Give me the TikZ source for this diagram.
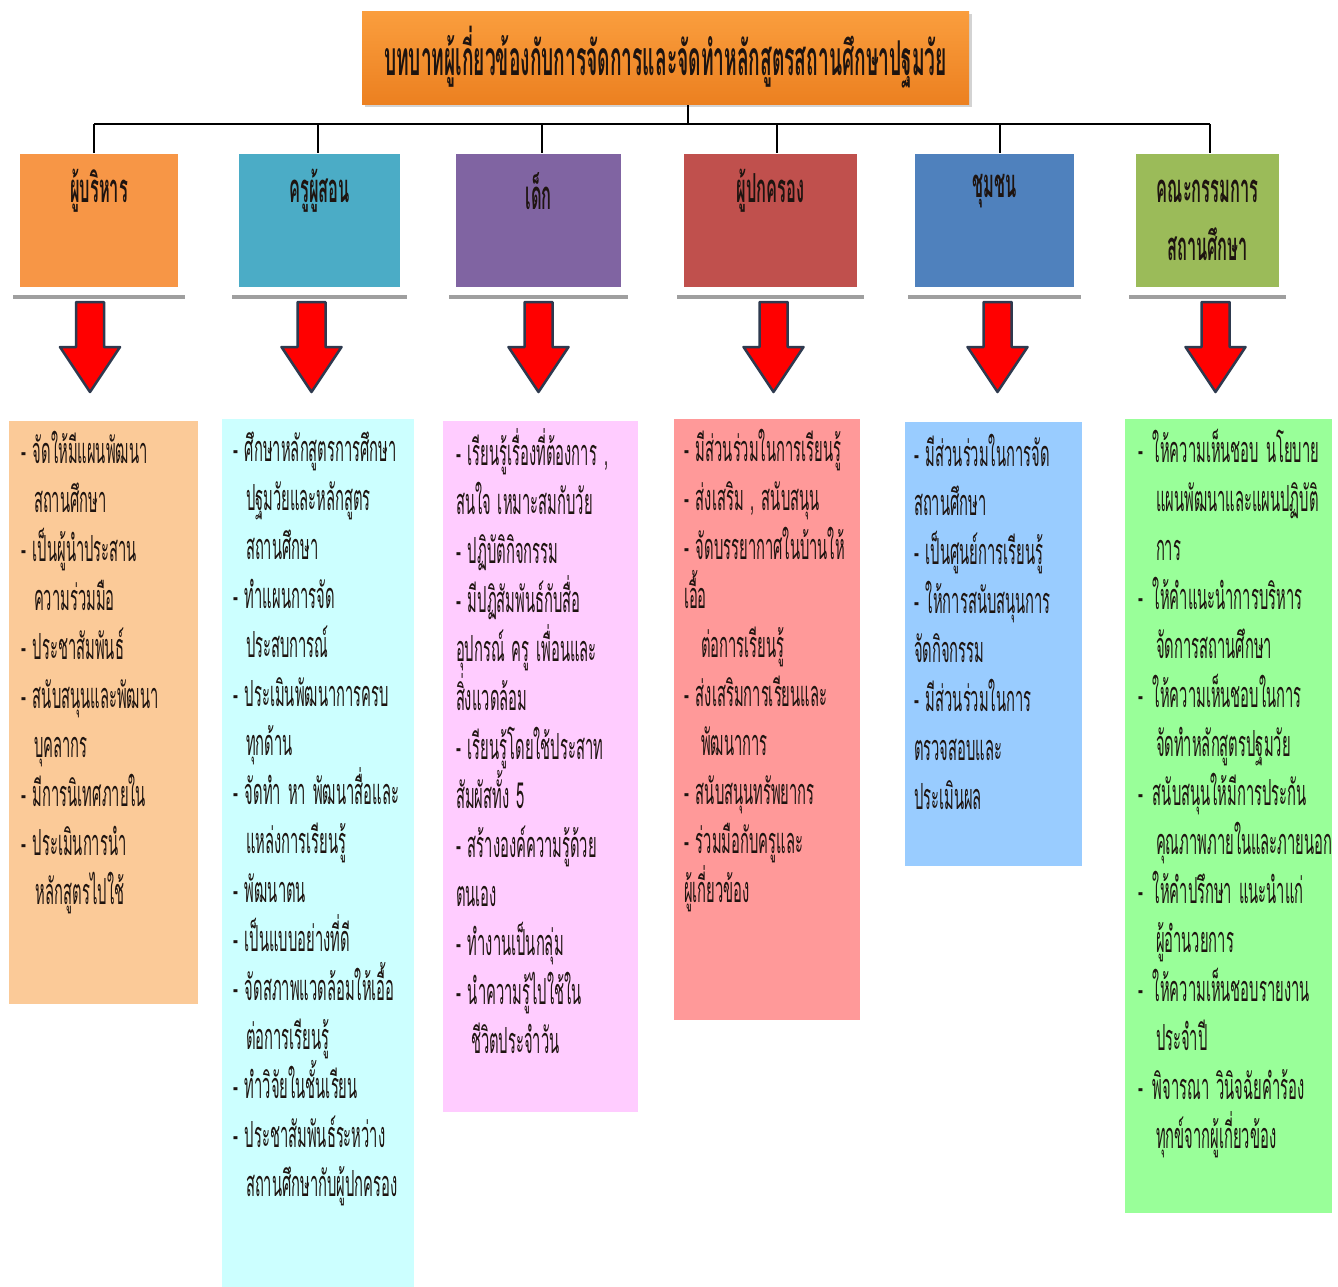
\documentclass[tikz,border=0pt]{standalone}
\usepackage{fontspec}
\newfontfamily\thaifont[Script=Thai,FakeStretch=0.41]{Loma}
\newfontfamily\thaititle[Script=Thai,FakeStretch=0.4]{Loma}
\newcommand\tsp{\hspace{7pt}}
\usetikzlibrary{shadows}

\definecolor{titletop}{HTML}{FA9E3E}
\definecolor{titlebot}{HTML}{EC8020}
\definecolor{hdorange}{HTML}{F79646}
\definecolor{hdteal}{HTML}{4BACC6}
\definecolor{hdpurple}{HTML}{8064A2}
\definecolor{hdred}{HTML}{C0504D}
\definecolor{hdblue}{HTML}{4F81BD}
\definecolor{hdgreen}{HTML}{9BBB59}
\definecolor{lsorange}{HTML}{FBCA98}
\definecolor{lscyan}{HTML}{CCFFFF}
\definecolor{lspink}{HTML}{FFCCFF}
\definecolor{lsred}{HTML}{FF9999}
\definecolor{lsblue}{HTML}{99CCFF}
\definecolor{lsgreen}{HTML}{99FF99}
\definecolor{arrowline}{HTML}{2E3A4F}
\definecolor{txt}{HTML}{1E1410}

\tikzset{every picture/.style={line width=2pt}}

\begin{document}
\begin{tikzpicture}[x=1pt,y=-1pt,
    headbox/.style={rectangle,anchor=north west,minimum height=133pt,inner sep=0pt},
    headtext/.style={font=\thaifont\bfseries\fontsize{40}{58}\selectfont,text=txt,align=center,inner sep=0pt},
    listbox/.style={rectangle,anchor=north west,inner sep=0pt},
    listtext/.style={anchor=base west,text width=260pt,align=left,inner sep=0pt,
        font=\thaifont\fontsize{36}{49}\selectfont,text=txt},
    shelf/.style={draw=gray!75,line width=4pt},
    redarrow/.style={draw=arrowline,fill=red,line width=2.5pt,line join=round},
    wire/.style={draw=black,line width=2pt}]
    \useasboundingbox (0,0) rectangle (1338,1286);

    % title
    \node (title) [rectangle,anchor=north west,minimum width=607pt,minimum height=93pt,
        top color=titletop,bottom color=titlebot,
        drop shadow={opacity=0.35,shadow xshift=3pt,shadow yshift=-3pt},
        font=\thaititle\bfseries\fontsize{48}{48}\selectfont,text=txt] at (361,10)
        {บทบาทผู้เกี่ยวข้องกับการจัดการและจัดทำหลักสูตรสถานศึกษาปฐมวัย};

    % heads
    \node (b1) [headbox,fill=hdorange,minimum width=158pt] at (19,153) {};
    \node (b2) [headbox,fill=hdteal,minimum width=161pt] at (238,153) {};
    \node (b3) [headbox,fill=hdpurple,minimum width=165pt] at (455,153) {};
    \node (b4) [headbox,fill=hdred,minimum width=173pt] at (683,153) {};
    \node (b5) [headbox,fill=hdblue,minimum width=159pt] at (914,153) {};
    \node (b6) [headbox,fill=hdgreen,minimum width=143pt] at (1135,153) {};

    \node (h1) [headtext] at ([yshift=-38pt]b1.north) {ผู้บริหาร};
    \node (h2) [headtext] at ([yshift=-38pt]b2.north) {ครูผู้สอน};
    \node (h3) [headtext] at ([yshift=-38pt]b3.north) {เด็ก};
    \node (h4) [headtext] at ([yshift=-38pt]b4.north) {ผู้ปกครอง};
    \node (h5) [headtext] at ([yshift=-38pt]b5.north) {ชุมชน};
    \node (h6) [headtext] at ([yshift=-67pt]b6.north) {คณะกรรมการ\\สถานศึกษา};

    \foreach \n in {b1,b2,b3,b4,b5,b6}
        \draw[shelf] ([xshift=-6pt,yshift=-9pt]\n.south west) -- ([xshift=6pt,yshift=-9pt]\n.south east);

    % tree lines
    \coordinate (bus) at (688,124);
    \draw[wire] (title.south -| bus) -- (bus);
    \draw[wire] ([xshift=-5pt]b1.north |- bus) -- ([xshift=2pt]b6.north |- bus);
    \foreach \n/\dx in {b1/-5,b2/-2,b3/3,b4/6,b5/5,b6/2}
        \draw[wire] ([xshift=\dx pt]\n.north |- bus) -- ([xshift=\dx pt]\n.north);

    % lists
    \node (d1) [listbox,fill=lsorange,minimum width=189pt,minimum height=583pt] at (8,420) {};
    \node (d2) [listbox,fill=lscyan,minimum width=192pt,minimum height=868pt] at (221,418) {};
    \node (d3) [listbox,fill=lspink,minimum width=195pt,minimum height=691pt] at (442,420) {};
    \node (d4) [listbox,fill=lsred,minimum width=186pt,minimum height=601pt] at (673,418) {};
    \node (d5) [listbox,fill=lsblue,minimum width=177pt,minimum height=444pt] at (904,421) {};
    \node (d6) [listbox,fill=lsgreen,minimum width=207pt,minimum height=794pt] at (1124,418) {};

    % arrows
    \foreach \n/\dx in {b1/-9,b2/-8,b3/0,b4/3,b5/3,b6/8}
        \draw[redarrow] ([xshift=\dx pt]\n.south) ++(-14,14) -- ++(28,0) -- ++(0,45)
            -- ++(16,0) -- ++(-30,45) -- ++(-30,-45) -- ++(16,0) -- cycle;

    \node (t1) [listtext] at ([xshift=12pt,yshift=-43pt]d1.north west)
        {-\tsp จัดให้มีแผนพัฒนา\\ \hspace*{13pt}สถานศึกษา\\
         -\tsp เป็นผู้นำประสาน\\ \hspace*{13pt}ความร่วมมือ\\
         -\tsp ประชาสัมพันธ์\\
         -\tsp สนับสนุนและพัฒนา\\ \hspace*{13pt}บุคลากร\\
         -\tsp มีการนิเทศภายใน\\
         -\tsp ประเมินการนำ\\ \hspace*{15pt}หลักสูตรไปใช้};
    \node (t2) [listtext] at ([xshift=11pt,yshift=-43pt]d2.north west)
        {-\tsp ศึกษาหลักสูตรการศึกษา\\ \hspace*{13pt}ปฐมวัยและหลักสูตร\\ \hspace*{13pt}สถานศึกษา\\
         -\tsp ทำแผนการจัด\\ \hspace*{13pt}ประสบการณ์\\
         -\tsp ประเมินพัฒนาการครบ\\ \hspace*{13pt}ทุกด้าน\\
         -\tsp จัดทำ\tsp หา\tsp พัฒนาสื่อและ\\ \hspace*{13pt}แหล่งการเรียนรู้\\
         -\tsp พัฒนาตน\\
         -\tsp เป็นแบบอย่างที่ดี\\
         -\tsp จัดสภาพแวดล้อมให้เอื้อ\\ \hspace*{13pt}ต่อการเรียนรู้\\
         -\tsp ทำวิจัยในชั้นเรียน\\
         -\tsp ประชาสัมพันธ์ระหว่าง\\ \hspace*{13pt}สถานศึกษากับผู้ปกครอง};
    \node (t3) [listtext] at ([xshift=13pt,yshift=-45pt]d3.north west)
        {-\tsp เรียนรู้เรื่องที่ต้องการ\tsp ,\\ สนใจ\tsp เหมาะสมกับวัย\\
         -\tsp ปฏิบัติกิจกรรม\\
         -\tsp มีปฏิสัมพันธ์กับสื่อ\\ อุปกรณ์\tsp ครู\tsp เพื่อนและ\\ สิ่งแวดล้อม\\
         -\tsp เรียนรู้โดยใช้ประสาท\\ สัมผัสทั้ง\tsp 5\\
         -\tsp สร้างองค์ความรู้ด้วย\\ ตนเอง\\
         -\tsp ทำงานเป็นกลุ่ม\\
         -\tsp นำความรู้ไปใช้ใน\\ \hspace*{15pt}ชีวิตประจำวัน};
    \node (t4) [listtext] at ([xshift=10pt,yshift=-43pt]d4.north west)
        {-\tsp มีส่วนร่วมในการเรียนรู้\\
         -\tsp ส่งเสริม\tsp ,\tsp สนับสนุน\\
         -\tsp จัดบรรยากาศในบ้านให้\\ เอื้อ\\ \hspace*{17pt}ต่อการเรียนรู้\\
         -\tsp ส่งเสริมการเรียนและ\\ \hspace*{17pt}พัฒนาการ\\
         -\tsp สนับสนุนทรัพยากร\\
         -\tsp ร่วมมือกับครูและ\\ ผู้เกี่ยวข้อง};
    \node (t5) [listtext] at ([xshift=9pt,yshift=-45pt]d5.north west)
        {-\tsp มีส่วนร่วมในการจัด\\ สถานศึกษา\\
         -\tsp เป็นศูนย์การเรียนรู้\\
         -\tsp ให้การสนับสนุนการ\\ จัดกิจกรรม\\
         -\tsp มีส่วนร่วมในการ\\ ตรวจสอบและ\\ ประเมินผล};
    \node (t6) [listtext] at ([xshift=13pt,yshift=-44pt]d6.north west)
        {-\hspace*{10pt}ให้ความเห็นชอบ\tsp นโยบาย\\ \hspace*{18pt}แผนพัฒนาและแผนปฏิบัติ\\ \hspace*{18pt}การ\\
         -\hspace*{10pt}ให้คำแนะนำการบริหาร\\ \hspace*{18pt}จัดการสถานศึกษา\\
         -\hspace*{10pt}ให้ความเห็นชอบในการ\\ \hspace*{18pt}จัดทำหลักสูตรปฐมวัย\\
         -\hspace*{10pt}สนับสนุนให้มีการประกัน\\ \hspace*{18pt}คุณภาพภายในและภายนอก\\
         -\hspace*{10pt}ให้คำปรึกษา\tsp แนะนำแก่\\ \hspace*{18pt}ผู้อำนวยการ\\
         -\hspace*{10pt}ให้ความเห็นชอบรายงาน\\ \hspace*{18pt}ประจำปี\\
         -\hspace*{10pt}พิจารณา\tsp วินิจฉัยคำร้อง\\ \hspace*{18pt}ทุกข์จากผู้เกี่ยวข้อง};
\end{tikzpicture}
\end{document}
